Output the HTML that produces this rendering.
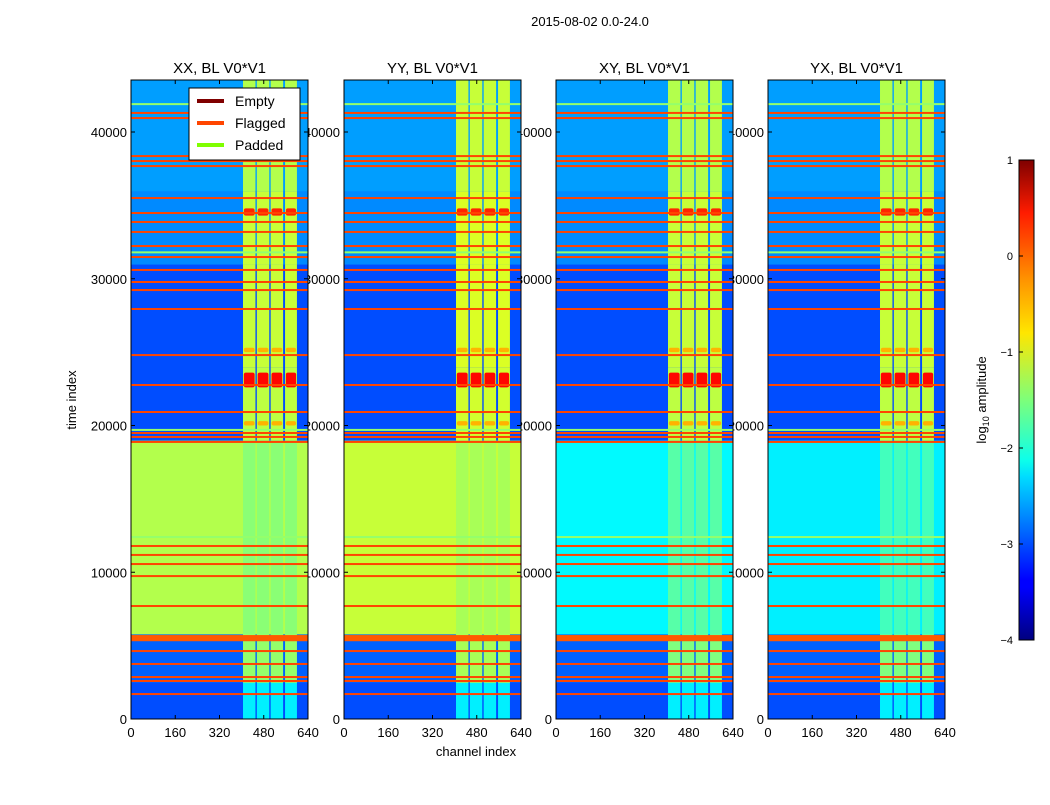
<!DOCTYPE html>
<html><head><meta charset="utf-8"><style>
body{margin:0;background:#fff;font-family:"Liberation Sans",sans-serif}
svg text{font-family:"Liberation Sans",sans-serif}
</style></head><body>
<svg id="fig" width="1050" height="800" xmlns="http://www.w3.org/2000/svg">
<rect width="1050" height="800" fill="#fff"/>
<text x="590" y="26" font-size="13" text-anchor="middle">2015-08-02 0.0-24.0</text>
<g id="labels"></g>
<g id="panels"></g>
<g id="legend">
<rect x="189" y="88" width="111" height="72" fill="#fff" stroke="#000" stroke-width="1"/>
<line x1="197" y1="101" x2="224" y2="101" stroke="#800000" stroke-width="4"/>
<text x="235" y="106" font-size="14">Empty</text>
<line x1="197" y1="123" x2="224" y2="123" stroke="#ff4500" stroke-width="4"/>
<text x="235" y="128" font-size="14">Flagged</text>
<line x1="197" y1="145" x2="224" y2="145" stroke="#7fff00" stroke-width="4"/>
<text x="235" y="150" font-size="14">Padded</text>
</g>
<defs><linearGradient id="jet" x1="0" y1="1" x2="0" y2="0">
<stop offset="0" stop-color="#00007f"/><stop offset="0.11" stop-color="#0000ff"/><stop offset="0.125" stop-color="#0000ff"/>
<stop offset="0.34" stop-color="#00dcff"/><stop offset="0.375" stop-color="#0dffea"/><stop offset="0.5" stop-color="#7dff7a"/>
<stop offset="0.64" stop-color="#ffe600"/><stop offset="0.75" stop-color="#ff9400"/><stop offset="0.89" stop-color="#ff1c00"/><stop offset="1" stop-color="#7f0000"/>
</linearGradient></defs>
<rect x="1019" y="160" width="15" height="480" fill="url(#jet)" stroke="#000"/>
<g id="cbticks" font-size="11"></g>
<text transform="translate(986,400) rotate(-90)" font-size="13" text-anchor="middle">log<tspan font-size="9" dy="3">10</tspan><tspan dy="-3"> amplitude</tspan></text>
<text transform="translate(76,400) rotate(-90)" font-size="13" text-anchor="middle">time index</text>
<text x="476" y="756" font-size="13" text-anchor="middle">channel index</text>
</svg>
<script>
const panelTitles = ["XX, BL V0*V1","YY, BL V0*V1","XY, BL V0*V1","YX, BL V0*V1"];
const segStart = [0, 2500, 5800, 19000, 24000, 31000, 36000];
const baseVals = [
 [-3.0,-2.9,-1.25,-3.0,-3.0,-2.7,-2.6],
 [-3.0,-2.9,-1.15,-3.0,-3.0,-2.7,-2.6],
 [-3.0,-2.9,-2.15,-3.0,-3.0,-2.7,-2.6],
 [-3.0,-2.9,-2.2,-3.0,-3.0,-2.7,-2.6]];
const stripeVals = [
 [-2.2,-1.4,-1.45,-1.2,-1.15,-1.15,-1.25],
 [-2.2,-1.3,-1.3,-1.1,-1.05,-1.05,-1.15],
 [-2.2,-1.5,-1.7,-1.2,-1.15,-1.15,-1.25],
 [-2.2,-1.5,-1.8,-1.2,-1.15,-1.15,-1.25]];
const stripeChans = [[405,450],[455,500],[505,550],[557,600]];
const blobTimes = [[22600,23600],[34300,34800],[25000,25300],[20000,20300]];
const blobVals = [0.35, 0.2, -0.5, -0.5];
const flagTimes = [41300,40950,38360,38020,37680,35500,34480,33870,33190,32230,31480,30600,29780,29230,27940,24800,22760,20920,19490,19220,18880,11790,11180,10560,9740,7700,4630,3750,2860,2590,1700];
const flagBand = [5300,5720];
const padTimes = [31800,41900,19700,12400];
const xTicks = [0,160,320,480,640];
const yTicks = [0,10000,20000,30000,40000];
const cbTicks = [1,0,-1,-2,-3,-4];

const panelX = [131,344,556,768], PW=177, PT=80, PB=719, TMAX=43544;
const ns="http://www.w3.org/2000/svg";
function jet(v){let t=(v+4)/5;t=Math.max(0,Math.min(1,t));
 const f=x=>Math.max(0,Math.min(1,x));
 const r=f(1.5-Math.abs(4*t-3)),g=f(1.5-Math.abs(4*t-2)),b=f(1.5-Math.abs(4*t-1));
 return `rgb(${Math.round(r*255)},${Math.round(g*255)},${Math.round(b*255)})`;}
function mk(tag,attrs,parent){const e=document.createElementNS(ns,tag);for(const k in attrs)e.setAttribute(k,attrs[k]);parent.appendChild(e);return e;}
const labels=document.getElementById('labels'), panels=document.getElementById('panels');
panelX.forEach((px,p)=>{
 const X=c=>px+c/640*PW, Y=t=>PB-t/TMAX*(PB-PT);
 const g=mk('g',{},panels);
 
 
 segStart.forEach((s,i)=>{
  const e=i+1<segStart.length?segStart[i+1]:TMAX;
  const r=mk('rect',{x:X(0),y:Y(e),width:PW,height:Y(s)-Y(e)+0.5,fill:jet(baseVals[p][i])},g);
  
  
  stripeChans.forEach(sc=>{
   const q=mk('rect',{x:X(sc[0]),y:Y(e),width:X(sc[1])-X(sc[0]),height:Y(s)-Y(e)+0.5,fill:jet(stripeVals[p][i])},g);
   
   
  });
 });
 blobTimes.forEach((bt,i)=>{stripeChans.forEach(sc=>{
  const q=mk('rect',{x:X(sc[0]+3),y:Y(bt[1]),width:X(sc[1]-3)-X(sc[0]+3),height:Y(bt[0])-Y(bt[1]),fill:jet(blobVals[i]),rx:2},g);
  
  
 });});
 padTimes.forEach(t=>{const l=mk('rect',{x:X(0),y:Y(t)-1,width:PW,height:2,fill:jet(-1.4)},g);
  
  });
 flagTimes.forEach(t=>{const l=mk('rect',{x:X(0),y:Y(t)-1,width:PW,height:2,fill:'#ff4500'},g);
  
  });
 const fb=mk('rect',{x:X(0),y:Y(flagBand[1]),width:PW,height:Y(flagBand[0])-Y(flagBand[1]),fill:'#ff5a00'},g);
 
 
 const fr=mk('rect',{x:px,y:PT,width:PW,height:PB-PT,fill:'none',stroke:'#000','stroke-width':1},g);
 
 
 const tt=mk('text',{x:px+PW/2,y:73,'font-size':15,'text-anchor':'middle'},labels);
 tt.textContent=panelTitles[p];
 
 
 xTicks.forEach(c=>{const t=mk('text',{x:X(c),y:737,'font-size':13,'text-anchor':'middle'},labels);t.textContent=c;
  
  
  mk('line',{x1:X(c),x2:X(c),y1:PB,y2:PB-4,stroke:'#000'},g);mk('line',{x1:X(c),x2:X(c),y1:PT,y2:PT+4,stroke:'#000'},g);});
 yTicks.forEach(v=>{const t=mk('text',{x:px-4,y:Y(v)+5,'font-size':13,'text-anchor':'end'},labels);t.textContent=v;
  
  
  mk('line',{x1:px,x2:px+4,y1:Y(v),y2:Y(v),stroke:'#000'},g);mk('line',{x1:px+PW,x2:px+PW-4,y1:Y(v),y2:Y(v),stroke:'#000'},g);});
});
const cbg=document.getElementById('cbticks');
cbTicks.forEach(v=>{const y=640-(v+4)/5*480;
 const t=mk('text',{x:1013,y:y+4,'text-anchor':'end'},cbg);t.textContent=v<0?'\u2212'+(-v):v;
 
 
 mk('line',{x1:1019,x2:1023,y1:y,y2:y,stroke:'#000'},cbg);});
</script>
</body></html>
